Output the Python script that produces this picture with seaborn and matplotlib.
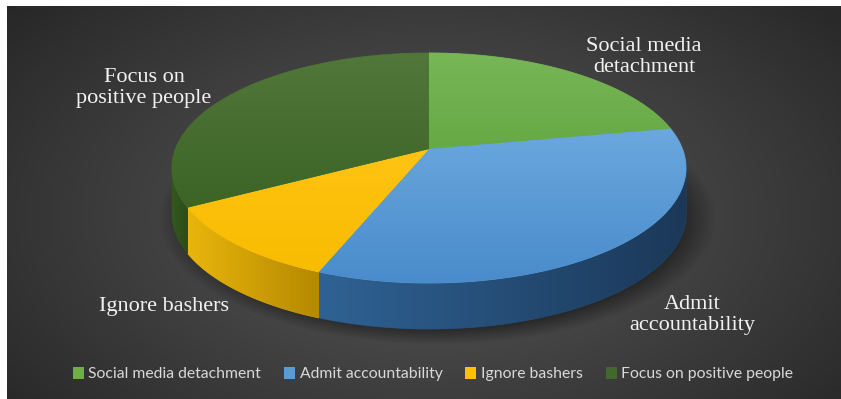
import numpy as np
import matplotlib
matplotlib.use("Agg")
import matplotlib.pyplot as plt
import seaborn as sns
from matplotlib.patches import Polygon, Patch, Rectangle
from matplotlib.colors import to_rgb

# ---------------- data ----------------
categories = ["Social media detachment", "Admit accountability",
              "Ignore bashers", "Focus on positive people"]
values = [22, 34, 11, 33]
slice_labels = ["Social media\ndetachment", "Admit\naccountability",
                "Ignore bashers", "Focus on\npositive people"]

# ---------------- styles ----------------
legend_colors = ["#70ad47", "#5b9bd5", "#ffc000", "#43682b"]
top_colors = [("#78b657", "#66aa44"), ("#6aa8de", "#4a8bcb"),
              ("#ffc313", "#f8bc00"), ("#52773a", "#3b6425")]
side_colors = [("#4f8a30", "#3f7226"), ("#2f6294", "#1b3858"),
               ("#e8b60c", "#b58800"), ("#34581f", "#2c4c1a")]
label_pos = [(644, 57), (692, 315), (164, 307), (144, 88)]

sns.set_theme(style="white")
plt.rcParams['font.family'] = ['Liberation Serif', 'DejaVu Serif']

W, H = 841, 399
fig = plt.figure(figsize=(W / 100, H / 100), dpi=100, facecolor="white")
ax = fig.add_axes([0, 0, 1, 1])


def finish_limits():
    ax.set_xlim(0, W)
    ax.set_ylim(H, 0)
    ax.set_aspect("auto")
    ax.axis("off")


# background radial gradient
yy, xx = np.mgrid[0:H, 0:W]
r = np.sqrt(((xx - 430) / 560) ** 2 + ((yy - 215) / 330) ** 2)
r = np.clip(r, 0, 1)
g = 0.34 - 0.19 * r ** 1.1
bg = np.dstack([g, g, g])
im = ax.imshow(bg, extent=(0, W, H, 0), zorder=0, interpolation="bilinear", aspect="auto")
im.set_clip_path(Rectangle((7, 6), W - 7, H - 6, transform=ax.transData))

# pie geometry (perspective ellipse)
cx, cy0, a, b, k, depth = 429.0, 149.0, 253.5, 111.9, 0.165, 46.0


def proj(theta_deg):
    th = np.radians(theta_deg)
    u = np.sin(th)
    v = -np.cos(th)
    s = 1.0 / (1.0 - k * v)
    return cx + a * u * s, cy0 + b * v * s


# shadow
sx, sy = proj(np.linspace(0, 360, 400))
ecx, ecy = (sx.max() + sx.min()) / 2 + 8, (sy.max() + sy.min()) / 2 + depth + 4
ea, eb = (sx.max() - sx.min()) / 2 + 6, (sy.max() - sy.min()) / 2 + 4
d = np.sqrt(((xx - ecx) / ea) ** 2 + ((yy - ecy) / eb) ** 2)
alpha = 0.45 * np.clip((1.06 - d) / 0.14, 0, 1)
sh = np.zeros((H, W, 4))
sh[..., 3] = alpha
ax.imshow(sh, extent=(0, W, H, 0), zorder=1, interpolation="bilinear", aspect="auto")


def grad_fill(xy, c0, c1, horizontal, zorder):
    xy = np.asarray(xy)
    x0, x1 = xy[:, 0].min(), xy[:, 0].max()
    y0, y1 = xy[:, 1].min(), xy[:, 1].max()
    t = np.linspace(0, 1, 256)
    c0 = np.array(to_rgb(c0))
    c1 = np.array(to_rgb(c1))
    cols = c0[None, :] * (1 - t[:, None]) + c1[None, :] * t[:, None]
    img = cols[None, :, :] if horizontal else cols[:, None, :]
    base = Polygon(xy, closed=True, facecolor=tuple((c0 + c1) / 2),
                   edgecolor=tuple((c0 + c1) / 2), linewidth=0.6, zorder=zorder - 0.1)
    ax.add_patch(base)
    im = ax.imshow(img, extent=(x0, x1, y1, y0), zorder=zorder,
                   interpolation="bilinear", aspect="auto")
    im.set_clip_path(base)


total = float(sum(values))
angles = np.concatenate([[0], np.cumsum(values) / total * 360.0])
vis0 = np.degrees(np.arccos(-k))
vis1 = 360 - vis0

# side walls
for i in range(len(values)):
    t0, t1 = max(angles[i], vis0), min(angles[i + 1], vis1)
    if t1 <= t0:
        continue
    th = np.linspace(t0, t1, 200)
    px, py = proj(th)
    xy = np.vstack([np.column_stack([px, py]),
                    np.column_stack([px[::-1], py[::-1] + depth])])
    cl, cr = side_colors[i]
    grad_fill(xy, cl, cr, True, 3)

# top surfaces
for i in range(len(values)):
    th = np.linspace(angles[i], angles[i + 1], 300)
    px, py = proj(th)
    xy = np.vstack([[cx, cy0], np.column_stack([px, py])])
    ct, cb = top_colors[i]
    grad_fill(xy, ct, cb, False, 5)

# slice labels
for lab, (lx, ly) in zip(slice_labels, label_pos):
    ax.text(lx, ly, lab, ha="center", va="center", color="#f2f2f2",
            fontsize=16, family=["Liberation Serif"], linespacing=1.08, zorder=10)

# legend
handles = [Patch(facecolor=c, edgecolor="none", label=cat)
           for c, cat in zip(legend_colors, categories)]
leg = ax.legend(handles=handles, ncol=4, loc="center",
                bbox_to_anchor=(433 / W, 1 - 374 / H), frameon=False,
                prop={"family": ["Lato", "DejaVu Sans"], "size": 11.3},
                labelcolor="#d9d9d9", handlelength=0.7, handleheight=0.8,
                handletextpad=0.3, columnspacing=1.45)

finish_limits()
fig.savefig("out.png", dpi=100, facecolor="white")
